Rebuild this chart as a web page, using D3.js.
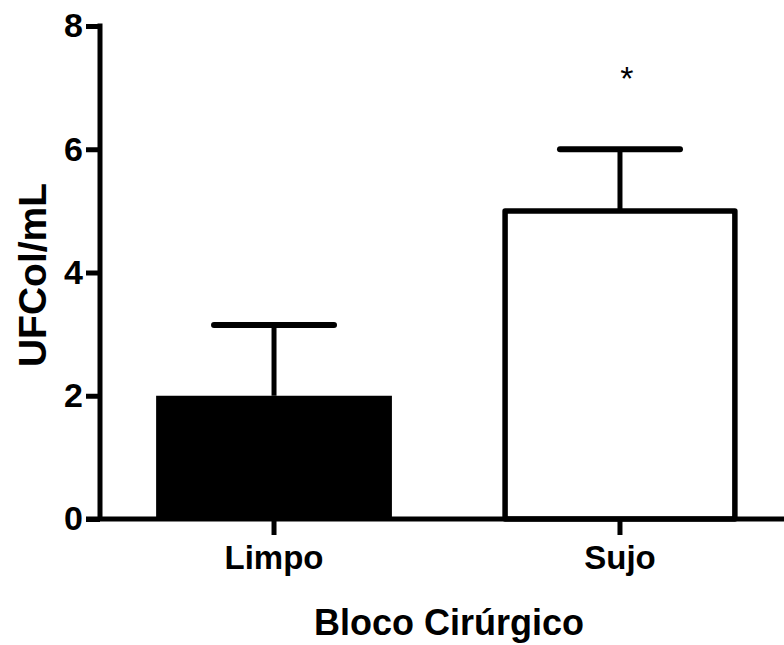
<!DOCTYPE html>
<html>
<head>
<meta charset="utf-8">
<script src="https://cdn.jsdelivr.net/npm/d3@7"></script>
<style>
  body { margin: 0; background: #fff; }
  text { font-family: Arial, "Liberation Sans", Helvetica, sans-serif; font-weight: bold; fill: #000; }
</style>
</head>
<body>
<div class="container"></div>
<script>
let width = 784;
let height = 645;

// data
let groups = ['Limpo', 'Sujo'];
let means = [2, 5];
let errors = [1.15, 1];
let fills = ['#000', '#fff'];
let marks = ['', '*'];
let yTicks = [0, 2, 4, 6, 8];

let yLabel = 'UFCol/mL';
let xLabel = 'Bloco Cirúrgico';

let lw = 5;

let svg = d3.select('.container').append('svg')
  .attr('width', width)
  .attr('height', height);

let x = d3.scaleBand()
  .domain(groups)
  .range([100, 794])
  .paddingInner(0.33)
  .paddingOuter(0.168);

let y = d3.scaleLinear()
  .domain([0, 8])
  .range([519, 26]);

// bars
let bars = svg.selectAll('.bar')
  .data(groups)
  .enter()
  .append('g')
  .attr('class', 'bar');

bars.append('rect')
  .attr('x', (d) => x(d) + (d === 'Limpo' ? -2 : 1))
  .attr('width', (d) => x.bandwidth() + (d === 'Limpo' ? 4 : -2))
  .attr('y', (d, i) => y(means[i]))
  .attr('height', (d, i) => y(0) - y(means[i]))
  .attr('fill', (d, i) => fills[i])
  .attr('stroke', '#000')
  .attr('stroke-width', (d, i) => i === 0 ? 0 : 5.5)
  .attr('stroke-linejoin', 'round');

// error bars (upper only)
bars.append('line')
  .attr('x1', (d) => x(d) + x.bandwidth() / 2)
  .attr('x2', (d) => x(d) + x.bandwidth() / 2)
  .attr('y1', (d, i) => y(means[i]))
  .attr('y2', (d, i) => y(means[i] + errors[i]))
  .attr('stroke', '#000')
  .attr('stroke-width', lw);

bars.append('line')
  .attr('x1', (d) => x(d) + x.bandwidth() / 2 - 60)
  .attr('x2', (d) => x(d) + x.bandwidth() / 2 + 60)
  .attr('y1', (d, i) => y(means[i] + errors[i]))
  .attr('y2', (d, i) => y(means[i] + errors[i]))
  .attr('stroke', '#000')
  .attr('stroke-width', lw + 1)
  .attr('stroke-linecap', 'round');

bars.append('text')
  .text((d, i) => marks[i])
  .attr('x', (d) => x(d) + x.bandwidth() / 2 + 7)
  .attr('y', (d, i) => y(means[i] + errors[i]) - 59)
  .attr('text-anchor', 'middle')
  .style('font-size', '34px')
  .style('font-weight', 'normal');

// axes
let yAxis = svg.append('g')
  .attr('transform', 'translate(100,0)')
  .call(d3.axisLeft(y).tickValues(yTicks).tickSize(14).tickSizeOuter(0).tickPadding(3));

let xAxis = svg.append('g')
  .attr('transform', 'translate(0,519)')
  .call(d3.axisBottom(x).tickSize(16).tickSizeOuter(0).tickPadding(11));

for (let ax of [xAxis, yAxis]) {
  ax.selectAll('path, line')
    .attr('stroke', '#000')
    .attr('stroke-width', lw);
  ax.selectAll('text')
    .style('font-size', '33px')
    .attr('fill', '#000');
}
yAxis.selectAll('text').style('font-size', '34px');
xAxis.select('.domain').attr('d', 'M86,0H794');
yAxis.select('.domain').attr('d', 'M0,519V23.5');

// axis titles
svg.append('text')
  .text(xLabel)
  .attr('x', 449)
  .attr('y', 635)
  .attr('text-anchor', 'middle')
  .style('font-size', '36px');

svg.append('text')
  .text(yLabel)
  .attr('transform', 'translate(46,275) rotate(-90)')
  .attr('text-anchor', 'middle')
  .style('font-size', '39px');
</script>
</body>
</html>
